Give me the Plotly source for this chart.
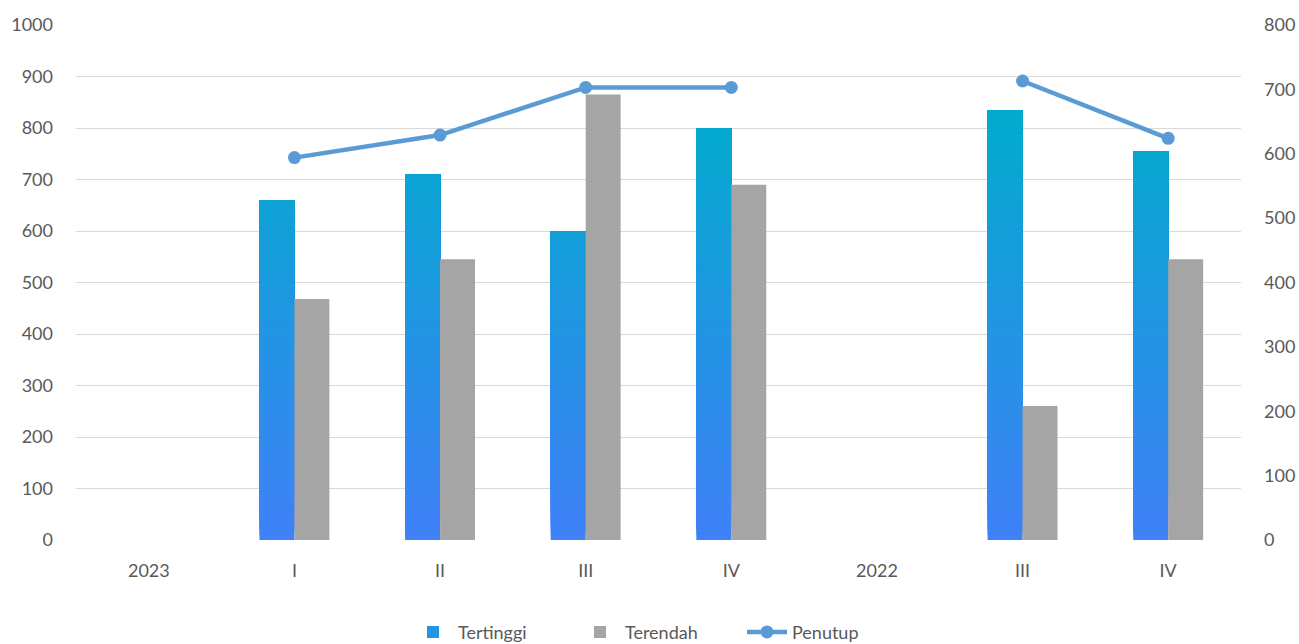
import plotly.graph_objects as go

categories = ["2023", "I", "II", "III", "IV", "2022", "III", "IV"]
tertinggi = [None, 660, 710, 600, 800, None, 835, 755]
terendah = [None, 468, 545, 865, 690, None, 260, 545]
penutup = [None, 594, 629, 703, 703, None, 713, 624]

x = list(range(len(categories)))

c_bottom = (64, 128, 248)
c_top = (0, 172, 204)
grad_max = 850.0
step = 10

def grad_color(v):
    t = max(0.0, min(1.0, v / grad_max))
    r, g, b = (round(c_bottom[i] + (c_top[i] - c_bottom[i]) * t) for i in range(3))
    return f"rgb({r},{g},{b})"

fig = go.Figure()

bar_w = 0.24
max_v = max(v for v in tertinggi if v is not None)
n_seg = int(-(-max_v // step))
legend_seg = n_seg // 2
# Each layer spans from its base up to the bar's value; later layers sit on top,
# giving a seamless vertical gradient.
for j in range(n_seg):
    base = j * step
    ys = []
    for v in tertinggi:
        if v is None or v <= base:
            ys.append(None)
        else:
            ys.append(v - base)
    fig.add_trace(go.Bar(
        x=x, y=ys, base=base, name="Tertinggi",
        marker=dict(color=grad_color(base + step / 2), line=dict(width=0)),
        width=bar_w, offset=-bar_w, legendgroup="t",
        showlegend=(j == legend_seg), legendrank=1,
        hoverinfo="skip" if j != 0 else None,
        customdata=tertinggi,
        hovertemplate="Tertinggi: %{customdata}<extra></extra>" if j == 0 else None,
    ))

fig.add_trace(go.Bar(
    x=x, y=terendah, name="Terendah",
    marker=dict(color="#A5A5A5", line=dict(width=0)),
    width=bar_w, offset=0, legendrank=2,
))

fig.add_trace(go.Scatter(
    x=x, y=penutup, name="Penutup", yaxis="y2", mode="lines+markers",
    line=dict(color="#5B9BD5", width=4.5),
    marker=dict(color="#5B9BD5", size=13),
    connectgaps=False, legendrank=3,
))

font_color = "#595959"
fig.update_layout(
    width=1299, height=644,
    margin=dict(l=76, r=58, t=25, b=104, autoexpand=False),
    paper_bgcolor="white", plot_bgcolor="white",
    barmode="overlay",
    font=dict(family="Lato, 'Open Sans', sans-serif", size=18, color=font_color),
    xaxis=dict(
        tickmode="array", tickvals=x, ticktext=categories,
        range=[-0.5, len(categories) - 0.5],
        showgrid=False, zeroline=False, showline=False, ticks="",
        ticklabelstandoff=18, automargin=False,
    ),
    yaxis=dict(
        range=[0, 1000], dtick=100, tick0=0,
        gridcolor="#D9D9D9", gridwidth=1.3, zeroline=False,
        ticks="", ticklabelstandoff=22, automargin=False,
    ),
    yaxis2=dict(
        overlaying="y", side="right", range=[0, 800], dtick=100, tick0=0,
        showgrid=False, zeroline=False, ticks="", ticklabelstandoff=22,
        automargin=False,
    ),
    legend=dict(
        orientation="h", x=0.5, xanchor="center", y=-0.179, yanchor="middle",
        font=dict(size=18, color=font_color), itemwidth=40, traceorder="normal",
        entrywidth=112, entrywidthmode="pixels",
    ),
    showlegend=True,
)

fig.write_html("out.html")
